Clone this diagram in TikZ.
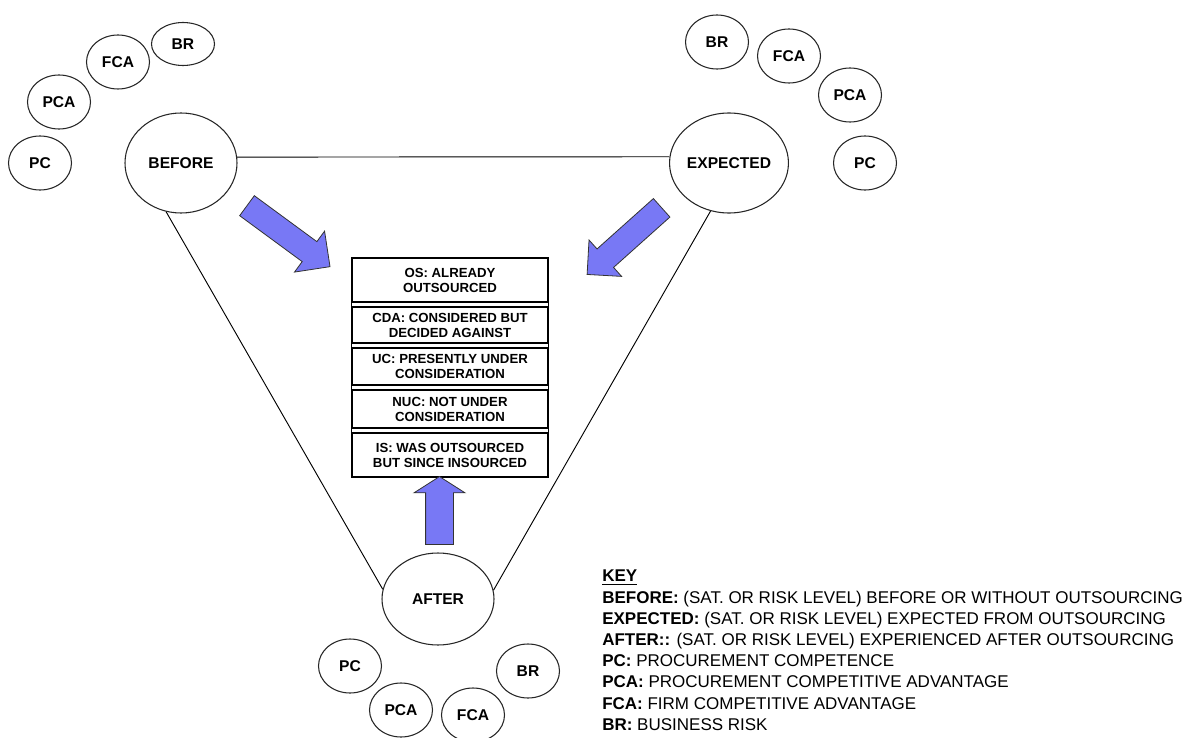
\documentclass[tikz,border=0pt]{standalone}
\usepackage{fontspec}
\setmainfont{Liberation Sans}
\usetikzlibrary{shapes.geometric,shapes.arrows,fit}
\definecolor{arrowblue}{RGB}{120,120,245}
\begin{document}
\begin{tikzpicture}[x=0.75pt,y=-0.75pt,
  bigstate/.style={draw=black!85, line width=0.8pt, ellipse, inner sep=0pt,
    minimum width=112*0.75pt, minimum height=100*0.75pt,
    font=\fontsize{11.7}{14}\selectfont\bfseries},
  factor/.style={draw=black!85, line width=0.8pt, ellipse, inner sep=0pt,
    minimum width=63*0.75pt, minimum height=54*0.75pt,
    font=\fontsize{11.7}{14}\selectfont\bfseries},
  edge/.style={draw=black, line width=0.7pt},
  cell/.style={draw, line width=0.8pt, rectangle, minimum width=196*0.75pt,
    inner sep=0pt, align=center, font=\fontsize{9.9}{11.25}\selectfont\bfseries},
  fatarrow/.style={single arrow, draw=black!80, line width=0.6pt, fill=arrowblue,
    inner xsep=0pt, single arrow tip angle=90}]
\useasboundingbox (0,0) rectangle (1199,738);

% the three assessment points
\node[bigstate] (before) at (181,163) {BEFORE};
\node[bigstate] (expected) at (729,163) {EXPECTED};
\node[bigstate, minimum height=92*0.75pt] (after) at (438,599) {AFTER};

% factors around BEFORE
\node[factor, minimum height=43*0.75pt] (bBR) at (183,44) {BR};
\node[factor] (bFCA) at (118,62) {FCA};
\node[factor] (bPCA) at (59,102) {PCA};
\node[factor] (bPC) at (40,163) {PC};

% factors around EXPECTED
\node[factor] (eBR) at (717,42) {BR};
\node[factor] (eFCA) at (789,56) {FCA};
\node[factor] (ePCA) at (850,95) {PCA};
\node[factor] (ePC) at (865,163) {PC};

% factors around AFTER
\node[factor] (aPC) at (350,666) {PC};
\node[factor] (aPCA) at (401,710) {PCA};
\node[factor] (aFCA) at (473,715) {FCA};
\node[factor] (aBR) at (528,671) {BR};

% triangle joining the assessment points
\draw[edge] (before.6) -- (expected.174);
\draw[edge] (before.253) -- (after.170);
\draw[edge] (expected.249) -- (after.9);

% outsourcing status categories
\node[cell, minimum height=44*0.75pt] (os) at (450,280) {OS: ALREADY\\OUTSOURCED};
\node[cell, minimum height=36*0.75pt] (cda) at (450,325) {CDA: CONSIDERED BUT\\DECIDED AGAINST};
\node[cell, minimum height=37*0.75pt] (uc) at (450,366.5) {UC: PRESENTLY UNDER\\CONSIDERATION};
\node[cell, minimum height=38*0.75pt] (nuc) at (450,409) {NUC: NOT UNDER\\CONSIDERATION};
\node[cell, minimum height=44*0.75pt] (is) at (450,455) {IS: WAS OUTSOURCED\\BUT SINCE INSOURCED};
\node[draw, line width=0.8pt, inner sep=0pt, fit=(os)(is)] (status) {};

% block arrows pointing at the categories
\node[fatarrow, minimum height=103*0.75pt, inner ysep=12*0.75pt,
  single arrow head extend=13*0.75pt, rotate=-36.3] (arrowB) at (283.5,232.5) {};
\node[fatarrow, minimum height=100*0.75pt, inner ysep=12*0.75pt,
  single arrow head extend=12*0.75pt, rotate=221.8] (arrowE) at (629,237) {};
\node[fatarrow, minimum height=68*0.75pt, inner ysep=13.5*0.75pt,
  single arrow head extend=11.5*0.75pt, single arrow tip angle=115,
  rotate=90] (arrowA) at (439.5,515) {};

% key
\node[anchor=north west, align=left, inner sep=0pt,
  font=\fontsize{12.75}{15.9}\selectfont] (key) at (602,570) {%
  \textbf{\underline{KEY}}\\
  \textbf{BEFORE:} (SAT. OR RISK LEVEL) BEFORE OR WITHOUT OUTSOURCING\\
  \textbf{EXPECTED:} (SAT. OR RISK LEVEL) EXPECTED FROM OUTSOURCING\\
  \textbf{AFTER::} (SAT. OR RISK LEVEL) EXPERIENCED AFTER OUTSOURCING\\
  \textbf{PC:} PROCUREMENT COMPETENCE\\
  \textbf{PCA:} PROCUREMENT COMPETITIVE ADVANTAGE\\
  \textbf{FCA:} FIRM COMPETITIVE ADVANTAGE\\
  \textbf{BR:} BUSINESS RISK};
\end{tikzpicture}
\end{document}
